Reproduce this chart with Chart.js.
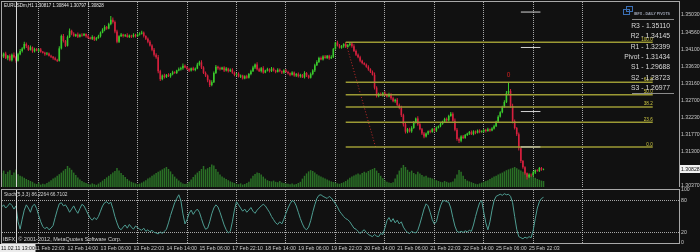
<!DOCTYPE html>
<html><head><meta charset="utf-8">
<script src="https://cdn.jsdelivr.net/npm/chart.js@4"></script>
<style>
html,body{margin:0;padding:0;background:#111111;width:700px;height:252px;overflow:hidden}
#wrap{position:relative;width:700px;height:252px}
#main{position:absolute;left:0;top:0;width:700px;height:189px}
#stoch{position:absolute;left:0;top:187px;width:700px;height:65px}
</style></head><body>
<div id="wrap"><canvas id="main" width="700" height="189"></canvas><canvas id="stoch" width="700" height="65"></canvas></div>
<script>
// ---------------- data ----------------
const symbol = 'EURUSDm', timeframe = 'H1';
const PIP = 0.0001;
const firstOpen = 1.3395;
const closes = [
1.3390,1.3398,1.3385,1.3392,1.3380,1.3395,1.3388,1.3378,1.3396,1.3405,1.3412,1.3424,1.3418,1.3408,1.3415,1.3404,1.3410,1.3406,1.3409,1.3403,1.3400,1.3396,1.3398,1.3392,
1.3389,1.3385,1.3381,1.3378,1.3412,1.3446,1.3432,1.3419,1.3443,1.3460,1.3452,1.3446,1.3450,1.3444,1.3449,1.3447,1.3451,1.3445,1.3441,1.3438,1.3443,1.3436,1.3440,1.3445,
1.3455,1.3463,1.3470,1.3466,1.3478,1.3490,1.3484,1.3458,1.3430,1.3445,1.3450,1.3446,1.3448,1.3443,1.3447,1.3444,1.3449,1.3445,1.3450,1.3452,1.3455,1.3446,1.3438,1.3430,
1.3420,1.3408,1.3395,1.3388,1.3350,1.3328,1.3338,1.3334,1.3340,1.3336,1.3342,1.3347,1.3345,1.3352,1.3355,1.3358,1.3365,1.3360,1.3356,1.3352,1.3358,1.3353,1.3357,1.3368,
1.3374,1.3360,1.3345,1.3338,1.3325,1.3312,1.3320,1.3345,1.3362,1.3358,1.3355,1.3360,1.3352,1.3357,1.3350,1.3354,1.3346,1.3340,1.3343,1.3335,1.3338,1.3330,1.3336,1.3332,
1.3342,1.3350,1.3360,1.3368,1.3355,1.3350,1.3358,1.3346,1.3352,1.3355,1.3350,1.3357,1.3352,1.3348,1.3354,1.3350,1.3346,1.3352,1.3348,1.3344,1.3340,1.3346,1.3338,1.3342,
1.3336,1.3340,1.3333,1.3345,1.3338,1.3332,1.3342,1.3352,1.3366,1.3375,1.3386,1.3382,1.3390,1.3386,1.3392,1.3385,1.3389,1.3410,1.3428,1.3420,1.3414,1.3418,1.3424,1.3416,
1.3421,1.3425,1.3418,1.3405,1.3395,1.3388,1.3378,1.3372,1.3368,1.3362,1.3355,1.3348,1.3340,1.3305,1.3282,1.3288,1.3284,1.3290,1.3286,1.3281,1.3287,1.3276,1.3268,1.3272,
1.3258,1.3250,1.3230,1.3205,1.3185,1.3192,1.3186,1.3195,1.3210,1.3221,1.3205,1.3192,1.3180,1.3172,1.3180,1.3186,1.3184,1.3192,1.3188,1.3196,1.3200,1.3206,1.3212,1.3220,
1.3216,1.3228,1.3234,1.3215,1.3190,1.3165,1.3160,1.3172,1.3168,1.3176,1.3180,1.3184,1.3178,1.3186,1.3182,1.3188,1.3184,1.3186,1.3190,1.3187,1.3192,1.3188,1.3194,1.3200,
1.3212,1.3226,1.3238,1.3252,1.3266,1.3290,1.3296,1.3255,1.3214,1.3195,1.3178,1.3140,1.3105,1.3088,1.3072,1.3062,1.3068,1.3066,1.3074,1.3080,1.3078,1.3086,1.30817,1.30828
];
// upper / lower shadow lengths in pips
const wickHi = [
4,3,5,2,4,3,6,3,4,5,3,6,4,3,5,2,4,3,3,4,2,3,4,3,
3,2,4,3,6,4,5,3,4,6,3,4,2,5,3,4,3,2,4,3,5,2,3,4,
3,4,5,3,4,10,6,4,5,3,4,2,3,5,3,2,4,3,3,4,5,3,2,4,
4,3,5,4,6,4,3,5,2,4,3,4,3,2,5,4,6,3,4,3,2,4,3,5,
4,6,3,4,3,2,5,4,5,3,4,2,3,4,2,3,4,3,2,4,3,2,3,4,
3,4,5,3,6,4,3,5,2,4,3,4,3,2,4,3,2,3,4,3,2,4,3,3,
4,3,2,5,3,2,4,3,4,5,3,4,3,4,2,3,4,3,2,5,4,3,2,4,
3,4,2,5,4,3,4,3,2,3,4,3,4,6,4,3,4,3,5,3,4,3,4,3,
5,4,6,4,5,3,4,5,4,3,6,4,3,4,3,2,4,3,4,3,2,4,3,3,
4,3,5,4,6,5,4,3,4,3,2,3,4,3,2,3,4,3,2,3,4,2,3,4,
3,4,3,4,5,6,22,5,6,4,3,5,4,3,3,2,4,3,4,2,3,3,2.7,1.6
];
const wickLo = [
3,4,2,5,3,4,3,5,2,3,4,3,5,3,2,4,3,2,4,3,2,4,3,2,
3,4,2,3,2,3,4,3,2,3,4,2,3,4,2,3,2,4,3,2,3,4,3,2,
3,2,4,3,2,3,4,5,4,3,2,4,3,2,3,4,2,3,2,3,2,4,3,4,
3,4,5,4,6,5,3,4,3,2,4,3,2,3,2,3,4,2,3,4,3,2,3,2,
3,4,3,4,5,5,3,2,3,4,3,2,4,3,4,2,3,4,3,2,4,3,2,3,
2,3,2,4,3,2,4,3,2,3,4,2,3,4,2,3,4,3,2,3,4,2,3,4,
3,4,2,3,4,3,2,3,4,2,3,2,3,2,3,4,2,3,2,3,2,3,4,3,
2,3,4,3,4,3,4,3,2,3,4,3,2,5,4,3,2,3,4,3,2,4,3,4,
3,4,5,6,5,4,3,4,2,3,4,3,4,5,3,4,3,2,3,4,2,3,2,3,
4,3,2,3,4,5,6,4,3,2,3,4,2,3,4,2,3,2,3,4,2,3,2,3,
2,3,2,3,2,3,4,5,6,4,5,6,5,4,4,7,3,4,3,4,2,3,3,2
];
const volumes = [
700,820,650,760,840,600,720,880,640,560,520,460,400,350,300,260,180,150,220,120,160,140,200,260,
340,420,480,560,640,720,820,900,1050,960,860,720,600,480,380,300,240,200,160,120,180,140,110,170,
240,320,400,480,560,640,720,800,950,820,700,600,500,400,320,260,220,180,150,170,220,280,340,420,
480,560,620,700,760,820,880,940,1000,900,780,640,520,420,320,240,180,150,170,260,380,500,620,720,
800,900,1050,880,940,1000,1120,1080,900,760,620,520,460,400,340,280,240,200,160,140,180,120,150,200,
260,420,560,650,720,700,620,520,420,340,300,280,320,260,240,300,220,200,180,160,140,180,120,150,
200,260,420,560,680,780,840,800,720,640,580,520,480,420,380,320,280,250,220,180,160,200,240,300,
380,460,520,580,620,680,620,700,760,720,800,860,900,950,820,700,560,440,340,260,220,200,240,420,
620,820,960,1100,1000,860,760,820,700,640,760,680,600,520,560,480,460,420,380,340,300,260,240,300,
260,220,240,280,420,620,850,760,560,400,320,280,240,200,160,140,180,220,260,300,340,400,460,520,
560,620,680,720,780,840,880,920,960,1000,940,880,820,760,720,680,640,560,520,460,400,360,320,300
];
const stochMain = [
68,72,66,70,75,71,64,70,40,26,45,62,72,66,58,70,73,65,52,40,31,27,30,25,
28,33,48,62,74,76,70,72,66,58,64,70,62,56,65,73,70,62,54,47,43,48,44,50,
60,70,76,78,74,77,65,50,38,28,25,30,34,28,35,30,26,32,29,26,24,28,22,25,
21,24,20,19,17,21,18,22,26,38,52,64,76,84,91,80,55,36,44,56,62,54,60,64,
58,46,34,26,28,40,55,66,72,68,58,46,34,25,19,22,40,62,78,72,66,60,64,58,
62,67,60,56,62,66,70,73,70,64,58,50,44,38,35,40,36,45,56,66,74,80,78,70,
58,46,36,28,25,30,42,58,72,84,90,91,88,86,84,88,85,80,74,68,60,55,50,46,
44,40,34,28,26,22,18,22,25,20,16,14,12,16,13,12,18,16,28,42,48,40,46,38,
43,36,40,30,24,20,18,22,20,19,24,36,50,64,74,70,58,44,36,40,56,70,79,80,
78,77,66,48,32,22,20,22,20,23,21,24,22,34,50,64,76,80,58,38,25,40,62,80,
88,90,92,90,93,91,92,88,76,50,26,12,10,8,11,9,12,10,24,46,66,78,84,86.2264
];
const stochParams = '5,3,3';
const stochSignalLast = 66.7102;
const stochTicks = [0, 20, 80, 100];
const stochLevels = [20, 80];

const priceTicks = [1.35030,1.34560,1.34100,1.33630,1.33160,1.32700,1.32230,1.31770,1.31300,1.30370];
const timeLabels = ['11 Feb 22:03','12 Feb 14:00','13 Feb 06:00','13 Feb 22:03','14 Feb 14:00','15 Feb 06:00','17 Feb 22:10','18 Feb 14:00','19 Feb 06:00','19 Feb 22:03','20 Feb 14:00','21 Feb 06:00','21 Feb 22:03','22 Feb 14:00','25 Feb 06:00','25 Feb 22:03'];
const timeLabelBars = [16,32,48,64,80,96,112,128,144,160,176,192,208,224,240,256];
const daySeparatorBars = [18,42,66,90,114,138,162,186,210,234,258,282];

const fibLevels = [0, 23.6, 38.2, 50, 61.8, 100];
const fibHigh = 1.3429, fibLow = 1.3143;
const fibHighBar = 167, fibLowBar = 181.5, fibEndBar = 316;

const pivotNames = ['R3','R2','R1','Pivot','S1','S2','S3'];
const pivotValues = [1.35110,1.34145,1.32399,1.31434,1.29688,1.28723,1.26977];
const pivotFromBar = 252, pivotToBar = 261.5;
const pivotTitle = 'IBFX - DAILY PIVOTS';

const vlineBar = 7, vlineLabel = '11.02.11 13:00';
const markerBar = 246, markerText = '0';
const copyright = 'IBFX, \u00A9 2001-2012, MetaQuotes Software Corp.';

// ---------------- view / style ----------------
const viewMin = 0.2, viewMax = 328.75;
const priceMin = 1.30343, priceMax = 1.35384;
const volMax = 9250;
const BG = '#111111', LBL = '#c8c8c8', GRIDC = 'rgba(205,205,205,0.8)', FRAME = '#a8a8a8';
const FONT = '"Liberation Sans", Arial, sans-serif';
const UP = '#3acb2c', DOWN = '#d6203e', FIBC = '#9c9a34', FIBT = '#cfc843';

const N = closes.length;
const opens = closes.map((c, i) => i ? closes[i - 1] : firstOpen);
const highs = closes.map((c, i) => Math.max(opens[i], c) + wickHi[i] * PIP);
const lows = closes.map((c, i) => Math.min(opens[i], c) - wickLo[i] * PIP);
const candleColors = closes.map((c, i) => c >= opens[i] ? UP : DOWN);
const bars = closes.map((_, i) => i);

function zeroPad(s) { s.paddingLeft = 0; s.paddingRight = 0; s.paddingTop = 0; s.paddingBottom = 0; }
function f(px) { return px + 'px ' + FONT; }

Chart.defaults.font.family = FONT;

const lineDs = (pts, color, width, dash, order) => ({
  type: 'line', data: pts, borderColor: color, borderWidth: width, borderDash: dash || [],
  pointRadius: 0, tension: 0, fill: false, order: order, yAxisID: 'y'
});

const fibDatasets = fibLevels.map(l => {
  const p = fibLow + (fibHigh - fibLow) * l / 100;
  return lineDs([{x: fibHighBar, y: p}, {x: fibEndBar, y: p}], FIBC, 1.5, null, 2);
});
const pivotDatasets = pivotValues.map(v => lineDs([{x: pivotFromBar, y: v}, {x: pivotToBar, y: v}], '#d4d4d4', 1, null, 1));

function drawVline(chart) {
  const {ctx, chartArea: a, scales} = chart;
  const x = Math.round(scales.x.getPixelForValue(vlineBar)) + 0.5;
  ctx.save(); ctx.strokeStyle = '#d8d8d8'; ctx.lineWidth = 1;
  ctx.beginPath(); ctx.moveTo(x, a.top); ctx.lineTo(x, a.bottom); ctx.stroke(); ctx.restore();
}
function drawFrame(chart) {
  const {ctx, chartArea: a} = chart;
  ctx.save(); ctx.strokeStyle = FRAME; ctx.lineWidth = 1;
  ctx.strokeRect(Math.round(a.left) - 0.5, Math.round(a.top) - 0.5, Math.round(a.right - a.left) + 1, Math.round(a.bottom - a.top) + 1);
  ctx.restore();
}
const fmt5 = v => v.toFixed(5);

const mainOverlay = {
  id: 'mainOverlay',
  beforeDraw(chart) { const {ctx, width, height} = chart; ctx.save(); ctx.fillStyle = BG; ctx.fillRect(0, 0, width, height); ctx.restore(); },
  afterDatasetsDraw(chart) {
    const {ctx, scales} = chart; const xs = scales.x, ys = scales.y;
    drawVline(chart);
    ctx.save();
    ctx.font = f(4.6); ctx.fillStyle = FIBT; ctx.textAlign = 'right'; ctx.textBaseline = 'bottom';
    const xe = xs.getPixelForValue(fibEndBar);
    fibLevels.forEach(l => {
      const p = fibLow + (fibHigh - fibLow) * l / 100;
      ctx.fillText(l.toFixed(1), xe, ys.getPixelForValue(p) - 0.5);
    });
    ctx.font = f(6.5); ctx.fillStyle = '#d42020'; ctx.textAlign = 'center'; ctx.textBaseline = 'bottom';
    ctx.fillText(markerText, xs.getPixelForValue(markerBar), ys.getPixelForValue(highs[markerBar]) - 4);
    ctx.restore();
  },
  afterDraw(chart) {
    const {ctx, scales} = chart; const ys = scales.y;
    drawFrame(chart);
    ctx.save();
    ctx.font = f(4.5); ctx.fillStyle = '#e6e6e6'; ctx.textAlign = 'left'; ctx.textBaseline = 'middle';
    ctx.fillText(symbol + ',' + timeframe + ' ' + [opens[N-1], highs[N-1], lows[N-1], closes[N-1]].map(fmt5).join(' '), 4, 6);
    ctx.strokeStyle = '#3b6fb4'; ctx.lineWidth = 1;
    ctx.strokeRect(623.5, 9.5, 6, 5); ctx.strokeRect(626.5, 6.5, 6, 5);
    ctx.font = 'bold ' + f(3.6); ctx.fillStyle = '#9ea4b4'; ctx.textAlign = 'left';
    ctx.fillText(pivotTitle, 634, 14);
    ctx.strokeStyle = '#8a8a8a';
    ctx.beginPath(); ctx.moveTo(632, 19.5); ctx.lineTo(674, 19.5); ctx.stroke();
    ctx.font = f(6.8); ctx.fillStyle = '#dadada'; ctx.textAlign = 'right';
    pivotNames.forEach((n, k) => ctx.fillText(n + ' - ' + fmt5(pivotValues[k]), 670, 26 + k * 10.35));
    ctx.beginPath(); ctx.moveTo(632, 93.5); ctx.lineTo(674, 93.5); ctx.stroke();
    const yp = ys.getPixelForValue(closes[N-1]);
    ctx.fillStyle = '#f2f2f2'; ctx.fillRect(680, Math.round(yp) - 4, 20, 8);
    ctx.fillStyle = '#111'; ctx.font = f(5.2); ctx.textAlign = 'left';
    ctx.fillText(fmt5(closes[N-1]), 681, yp);
    ctx.restore();
  }
};

new Chart(document.getElementById('main'), {
  type: 'bar',
  data: {
    datasets: [
      {type: 'bar', yAxisID: 'yv', data: volumes.map((v, i) => ({x: i, y: v})), backgroundColor: '#2a7026', barThickness: 1.5, grouped: false, inflateAmount: 0, order: 10},
      {type: 'bar', yAxisID: 'y', data: bars.map(i => ({x: i, y: [lows[i], highs[i]]})), backgroundColor: candleColors, barThickness: 1, grouped: false, inflateAmount: 0, order: 6},
      {type: 'bar', yAxisID: 'y', data: bars.map(i => ({x: i, y: [opens[i], closes[i]]})), backgroundColor: candleColors, barThickness: 1.6, grouped: false, inflateAmount: 0, order: 5},
      ...fibDatasets,
      lineDs([{x: fibHighBar, y: fibHigh}, {x: fibLowBar, y: fibLow}], '#c42a2a', 1, [1, 2], 3),
      ...pivotDatasets
    ]
  },
  options: {
    responsive: false, animation: false, events: [], devicePixelRatio: 1,
    layout: {padding: {left: 2, top: 2, right: 0, bottom: 2}},
    plugins: {legend: {display: false}, tooltip: {enabled: false}},
    scales: {
      x: {type: 'linear', min: viewMin, max: viewMax, offset: false,
        grid: {display: true, color: GRIDC, lineWidth: 1, drawTicks: false, offset: false},
        border: {display: false, dash: [1, 1]},
        ticks: {display: false},
        afterBuildTicks: s => { s.ticks = daySeparatorBars.map(v => ({value: v})); },
        afterFit: s => { s.height = 0; zeroPad(s); }
      },
      y: {type: 'linear', position: 'right', min: priceMin, max: priceMax,
        grid: {display: false, drawTicks: false}, border: {display: false},
        afterBuildTicks: s => { s.ticks = priceTicks.map(v => ({value: v})); },
        ticks: {autoSkip: false, color: LBL, padding: 2, font: {size: 5.2}, callback: v => fmt5(v)},
        afterFit: s => { s.width = 21; zeroPad(s); }
      },
      yv: {type: 'linear', display: false, min: 0, max: volMax}
    }
  },
  plugins: [mainOverlay]
});

const stochOverlay = {
  id: 'stochOverlay',
  beforeDraw(chart) { const {ctx, width, height} = chart; ctx.save(); ctx.fillStyle = BG; ctx.fillRect(0, 0, width, height); ctx.restore(); },
  afterDatasetsDraw(chart) { drawVline(chart); },
  afterDraw(chart) {
    const {ctx} = chart;
    drawFrame(chart);
    ctx.save();
    ctx.textAlign = 'left'; ctx.textBaseline = 'middle'; ctx.fillStyle = '#d4d4d4';
    ctx.font = f(4.8);
    ctx.fillText('Stoch(' + stochParams + ') ' + stochMain[N-1].toFixed(4) + ' ' + stochSignalLast.toFixed(4), 4, 7.5);
    ctx.font = f(5.5);
    ctx.fillText(copyright, 3, 52.5);
    ctx.fillStyle = '#ececec'; ctx.fillRect(0, 57, 35.5, 8);
    ctx.fillStyle = '#111'; ctx.font = f(5.2);
    ctx.fillText(vlineLabel, 1, 61.2);
    ctx.restore();
  }
};

new Chart(document.getElementById('stoch'), {
  type: 'line',
  data: {datasets: [{data: stochMain.map((v, i) => ({x: i, y: v})), borderColor: '#4e9d92', borderWidth: 1, pointRadius: 0, tension: 0, fill: false}]},
  options: {
    responsive: false, animation: false, events: [], devicePixelRatio: 1,
    layout: {padding: {left: 2, top: 3, right: 0, bottom: 0}},
    plugins: {legend: {display: false}, tooltip: {enabled: false}},
    scales: {
      x: {type: 'linear', min: viewMin, max: viewMax, offset: false,
        afterBuildTicks: s => { s.ticks = [...daySeparatorBars, ...timeLabelBars].sort((a, b) => a - b).map(v => ({value: v})); },
        grid: {color: c => (c.tick && daySeparatorBars.includes(c.tick.value)) ? GRIDC : 'rgba(0,0,0,0)', drawTicks: false, lineWidth: 1},
        border: {display: false, dash: [1, 1]},
        ticks: {autoSkip: false, maxRotation: 0, minRotation: 0, align: 'start', padding: 2, color: LBL, font: {size: 5.2},
          callback: v => { const k = timeLabelBars.indexOf(v); return k >= 0 ? timeLabels[k] : ''; }},
        afterFit: s => { s.height = 9; zeroPad(s); }
      },
      y: {type: 'linear', position: 'right', min: 0, max: 100,
        afterBuildTicks: s => { s.ticks = stochTicks.map(v => ({value: v})); },
        grid: {color: c => (c.tick && stochLevels.includes(c.tick.value)) ? GRIDC : 'rgba(0,0,0,0)', drawTicks: false},
        border: {display: false, dash: [1, 1]},
        ticks: {autoSkip: false, padding: 2, color: LBL, font: {size: 5.2}, callback: v => String(v)},
        afterFit: s => { s.width = 21; zeroPad(s); }
      }
    }
  },
  plugins: [stochOverlay]
});
</script>
</body></html>
